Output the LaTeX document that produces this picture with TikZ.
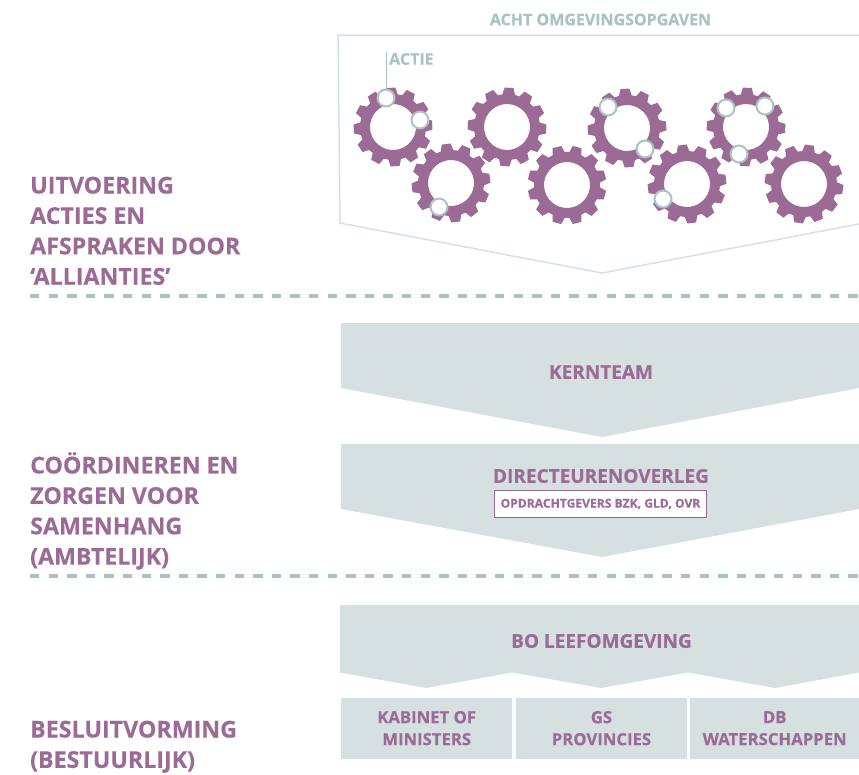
\documentclass[tikz,border=0pt]{standalone}
\usepackage{fontspec}
\setmainfont[BoldFeatures={FakeBold=0.4}]{Open Sans}
\definecolor{paars}{HTML}{9B6B96}
\definecolor{grijs}{HTML}{D6E0E1}
\definecolor{lijn}{HTML}{D5E1DF}
\definecolor{teal}{HTML}{A9C3C2}
\tikzset{
	vlak/.style = {fill = grijs, draw = none},
	kop/.style = {text = paars, font = \bfseries\fontsize{19}{22}\selectfont, align = center},
	zij/.style = {text = paars, font = \bfseries\fontsize{23.2}{30.4}\selectfont, align = left, anchor = north west, inner sep = 0pt},
	vak/.style = {text = paars, font = \bfseries\fontsize{16.7}{22}\selectfont, align = center},
	scheiding/.style = {draw = teal, line width = 4pt, dash pattern = on 9.3pt off 9.3pt},
	actie/.style = {circle, fill = white, draw = teal, line width = 2pt, minimum size = 17pt, inner sep = 0pt},
	tandwiel/.pic = {
		\fill[paars, even odd rule]
		(-11:33) foreach \a in {0,30,...,330} {
			-- (\a-11:33) -- (\a-6.5:39.5) -- (\a+6.5:39.5) -- (\a+11:33)
		} -- cycle
		(0,0) circle (23);
	}
}

\begin{document}
\begin{tikzpicture}[x = 1pt, y = -1pt]
	\useasboundingbox (0,0) rectangle (859,774);
	%bovenste kader
	\node[text = teal, font = \bfseries\fontsize{16}{18}\selectfont] (opgaven) at (600.5,19.5) {ACHT OMGEVINGSOPGAVEN};
	\draw[lijn, line width = 1.5pt] (859,35) -- (338,35) -- (340,223) -- (602,273) -- (859,224);
	\foreach \x/\y/\r in {393/127/3, 507/127/-3, 451/183/7, 567/185/15, 627/128/3, 687/184/7, 746/127/-2, 804/184/-8}
		\pic[rotate = \r] at (\x,\y) {tandwiel};
	\coordinate (actietop) at (386,52);
	\node[text = teal, font = \bfseries\fontsize{16}{18}\selectfont, anchor = west, inner sep = 0pt] (actietekst) at (389,59) {ACTIE};
	\foreach \n/\x/\y in {a/386/98, b/420/120, c/439/207, d/608/107, e/645/149, f/663/199, g/726/108, h/765/106, i/739/154}
		\node[actie] (\n) at (\x,\y) {};
	\draw[teal, line width = 0.8pt] (actietop) -- (a);
	%scheidingen
	\coordinate (s1) at (30,296);
	\coordinate (s2) at (30,576);
	\draw[scheiding] (s1) -- (859,296);
	\draw[scheiding] (s2) -- (859,576);
	%ambtelijk
	\fill[vlak] (341,323) -- (859,323) -- (859,388) -- (602,437) -- (341,388) -- cycle;
	\node[kop] (kernteam) at (601,372) {KERNTEAM};
	\fill[vlak] (341,444) -- (859,444) -- (859,509) -- (602,557) -- (341,509) -- cycle;
	\node[kop] (directeuren) at (601,476) {DIRECTEURENOVERLEG};
	\node[fill = white, draw = paars, line width = 0.8pt, minimum width = 212pt, minimum height = 27pt, inner sep = 0pt, text = paars, font = \bfseries\fontsize{12.1}{14}\selectfont] (opdracht) at (600.5,504) {OPDRACHTGEVERS BZK, GLD, OVR};
	%bestuurlijk
	\fill[vlak] (340,605) -- (859,605) -- (859,672.5) -- (775,688) -- (688,672.5) -- (601,688) -- (512,672.5) -- (426,688) -- (340,672.5) -- cycle;
	\node[kop] (bo) at (601.5,641) {BO LEEFOMGEVING};
	\foreach \n/\x/\b/\t in {kabinet/341/171/{KABINET OF\\MINISTERS}, gs/515.5/171.5/{GS\\PROVINCIES}, db/690/169/{DB\\WATERSCHAPPEN}}
		\node[vlak, vak, anchor = north west, minimum width = \b pt, minimum height = 61pt, inner sep = 0pt] (\n) at (\x,697.5) {\t};
	%zijteksten
	\node[zij] (uitvoering) at (30,176.5) {UITVOERING\\ACTIES EN\\AFSPRAKEN DOOR\\‘ALLIANTIES’};
	\node[zij] (coordineren) at (30,452) {COÖRDINEREN EN\\ZORGEN VOOR\\SAMENHANG\\(AMBTELIJK)};
	\node[zij] (besluit) at (30,720.5) {BESLUITVORMING\\(BESTUURLIJK)};
\end{tikzpicture}
\end{document}
